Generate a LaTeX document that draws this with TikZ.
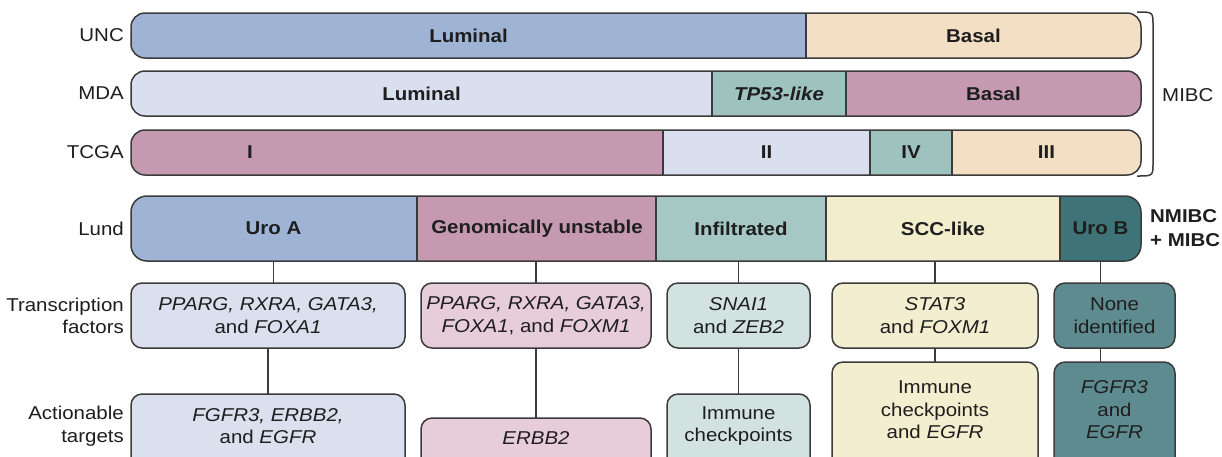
\documentclass[tikz,border=0pt]{standalone}
\usepackage{fontspec}
\setmainfont[FakeStretch=1.1]{Liberation Sans}
\definecolor{lc}{HTML}{3B3B3B}
\definecolor{txt}{HTML}{1E1E1E}
\definecolor{blueM}{HTML}{9FB4D5}
\definecolor{peach}{HTML}{F3DFC4}
\definecolor{lightblue}{HTML}{D9DFEE}
\definecolor{teal}{HTML}{9EC3BE}
\definecolor{mauve}{HTML}{C599B0}
\definecolor{infC}{HTML}{A6C8C5}
\definecolor{sccC}{HTML}{F2EDCC}
\definecolor{urobC}{HTML}{3E7378}
\definecolor{boxA}{HTML}{DAE0EE}
\definecolor{boxG}{HTML}{E7CDD9}
\definecolor{boxI}{HTML}{D2E2E1}
\definecolor{boxS}{HTML}{F3EECF}
\definecolor{boxU}{HTML}{5E8B90}
\begin{document}
\begin{tikzpicture}[x=1pt,y=-1pt,
  every node/.style={text=txt, font=\fontsize{18.6}{22.5}\selectfont},
  barline/.style={draw=lc, line width=1.5pt},
  seg/.style={rectangle, inner sep=0pt, outer sep=0pt, font=\fontsize{18.6}{22.5}\selectfont\bfseries},
  side/.style={anchor=east, align=right, inner sep=0pt},
  tbox/.style={rectangle, draw=lc, line width=1.5pt, rounded corners=11pt, inner sep=0pt, outer sep=0pt, align=center, font=\fontsize{18.6}{22.5}\selectfont},
  tlab/.style={align=center, inner sep=0pt, font=\fontsize{18.6}{22.5}\selectfont},
  conn/.style={draw=lc, line width=1.5pt}]
\useasboundingbox (0,0) rectangle (1222,456);
\fill[white] (0,0) rectangle (1222,456);

% ---------- UNC ----------
\node[side] (uncT) at (124,35.5) {UNC};
\begin{scope}
\clip[rounded corners=14pt] (131,13) rectangle (1141,58);
\node[seg, fill=blueM, minimum width=675pt, minimum height=45pt] (uncL) at (468.5,35.5) {Luminal};
\node[seg, fill=peach, minimum width=335pt, minimum height=45pt] (uncB) at (973.5,35.5) {Basal};
\end{scope}
\draw[barline, rounded corners=14pt] (131,13) rectangle (1141,58);
\draw[barline] (uncL.north east) -- (uncL.south east);

% ---------- MDA ----------
\node[side] (mdaT) at (124,93.5) {MDA};
\begin{scope}
\clip[rounded corners=14pt] (131,71) rectangle (1141,116);
\node[seg, fill=lightblue, minimum width=581pt, minimum height=45pt] (mdaL) at (421.5,93.5) {Luminal};
\node[seg, fill=teal, minimum width=134pt, minimum height=45pt] (mdaP) at (779,93.5) {\itshape TP53-like};
\node[seg, fill=mauve, minimum width=295pt, minimum height=45pt] (mdaB) at (993.5,93.5) {Basal};
\end{scope}
\draw[barline, rounded corners=14pt] (131,71) rectangle (1141,116);
\draw[barline] (mdaL.north east) -- (mdaL.south east);
\draw[barline] (mdaP.north east) -- (mdaP.south east);

% ---------- TCGA ----------
\node[side] (tcgaT) at (124,152.5) {TCGA};
\begin{scope}
\clip[rounded corners=14pt] (131,130) rectangle (1141,175);
\node[seg, fill=mauve, minimum width=532pt, minimum height=45pt] (tcI) at (397,152.5) {};
\node[seg, fill=lightblue, minimum width=207pt, minimum height=45pt] (tcII) at (766.5,152.5) {II};
\node[seg, fill=teal, minimum width=82pt, minimum height=45pt] (tcIV) at (911,152.5) {IV};
\node[seg, fill=peach, minimum width=189pt, minimum height=45pt] (tcIII) at (1046.5,152.5) {III};
\end{scope}
\node[seg] (tcIlab) at (250,152.5) {I};
\draw[barline, rounded corners=14pt] (131,130) rectangle (1141,175);
\draw[barline] (tcI.north east) -- (tcI.south east);
\draw[barline] (tcII.north east) -- (tcII.south east);
\draw[barline] (tcIV.north east) -- (tcIV.south east);

% ---------- brace ----------
\draw[draw=lc, line width=1.5pt] (1137,12) .. controls (1153,12) .. (1153,25) -- (1153,163) .. controls (1153,176) .. (1137,176);
\node[anchor=west, inner sep=0pt] (mibc) at (1162,95) {MIBC};

% ---------- Lund ----------
\node[side] (lundT) at (124,228.5) {Lund};
\begin{scope}
\clip[rounded corners=16pt] (131,196) rectangle (1141,261);
\node[seg, fill=blueM, minimum width=287pt, minimum height=65pt] (lA) at (273.5,228.5) {Uro A};
\node[seg, fill=mauve, minimum width=238pt, minimum height=65pt] (lG) at (537,228.5) {Genomically unstable};
\node[seg, fill=infC, minimum width=170pt, minimum height=65pt] (lI) at (741,228.5) {Infiltrated};
\node[seg, fill=sccC, minimum width=234pt, minimum height=65pt] (lS) at (943,228.5) {SCC-like};
\node[seg, fill=urobC, minimum width=81pt, minimum height=65pt] (lU) at (1100.5,228.5) {Uro B};
\end{scope}
\draw[barline, rounded corners=16pt] (131,196) rectangle (1141,261);
\draw[barline] (lA.north east) -- (lA.south east);
\draw[barline] (lG.north east) -- (lG.south east);
\draw[barline] (lI.north east) -- (lI.south east);
\draw[barline] (lS.north east) -- (lS.south east);
\node[anchor=west, align=left, inner sep=0pt, font=\fontsize{18.6}{24}\selectfont\bfseries] (nm) at (1150,228) {NMIBC\\+ MIBC};

% ---------- side labels ----------
\node[side] (tfT) at (124,316) {Transcription\\factors};
\node[side] (atT) at (124,426) {Actionable\\targets};

% ---------- transcription factor boxes ----------
\node[tbox, fill=boxA, minimum width=274pt, minimum height=65pt] (tfA) at (268,315.5) {\itshape PPARG, RXRA, GATA3,\\and \itshape FOXA1};
\node[tbox, fill=boxG, minimum width=230pt, minimum height=65pt] (tfG) at (536,315.5) {\itshape PPARG, RXRA, GATA3,\\\itshape FOXA1\upshape, and \itshape FOXM1};
\node[tbox, fill=boxI, minimum width=143pt, minimum height=65pt] (tfI) at (738.5,315.5) {\itshape SNAI1\\and \itshape ZEB2};
\node[tbox, fill=boxS, minimum width=206pt, minimum height=65pt] (tfS) at (935,315.5) {\itshape STAT3\\and \itshape FOXM1};
\node[tbox, fill=boxU, minimum width=121pt, minimum height=65pt] (tfU) at (1114.5,315.5) {None\\identified};

% ---------- actionable target boxes ----------
\node[tbox, fill=boxA, minimum width=274pt, minimum height=86pt] (tgA) at (268,437) {};
\node[tlab] (tgAl) at (268,426) {\itshape FGFR3, ERBB2,\\and \itshape EGFR};
\node[tbox, fill=boxG, minimum width=230pt, minimum height=62pt] (tgG) at (536,449) {};
\node[tlab] (tgGl) at (536,438) {\itshape ERBB2};
\node[tbox, fill=boxI, minimum width=143pt, minimum height=86pt] (tgI) at (738.5,437) {};
\node[tlab] (tgIl) at (738.5,426) {Immune\\checkpoints};
\node[tbox, fill=boxS, minimum width=206pt, minimum height=118pt] (tgS) at (935,421) {};
\node[tlab] (tgSl) at (935,410) {Immune\\checkpoints\\and \itshape EGFR};
\node[tbox, fill=boxU, minimum width=121pt, minimum height=118pt] (tgU) at (1114.5,421) {};
\node[tlab] (tgUl) at (1114.5,410) {\itshape FGFR3\\and\\\itshape EGFR};

% ---------- connectors ----------
\draw[conn] (lA.south) -- (lA.south |- tfA.north);
\draw[conn] (tfA.south) -- (tgA.north);
\draw[conn] (tfG.north |- lG.south) -- (tfG.north);
\draw[conn] (tfG.south) -- (tgG.north);
\draw[conn] (tfI.north |- lI.south) -- (tfI.north);
\draw[conn] (tfI.south) -- (tgI.north);
\draw[conn] (tfS.north |- lS.south) -- (tfS.north);
\draw[conn] (tfS.south) -- (tgS.north);
\draw[conn] (lU.south) -- (lU.south |- tfU.north);
\draw[conn] (lU.south |- tfU.south) -- (lU.south |- tgU.north);
\end{tikzpicture}
\end{document}
